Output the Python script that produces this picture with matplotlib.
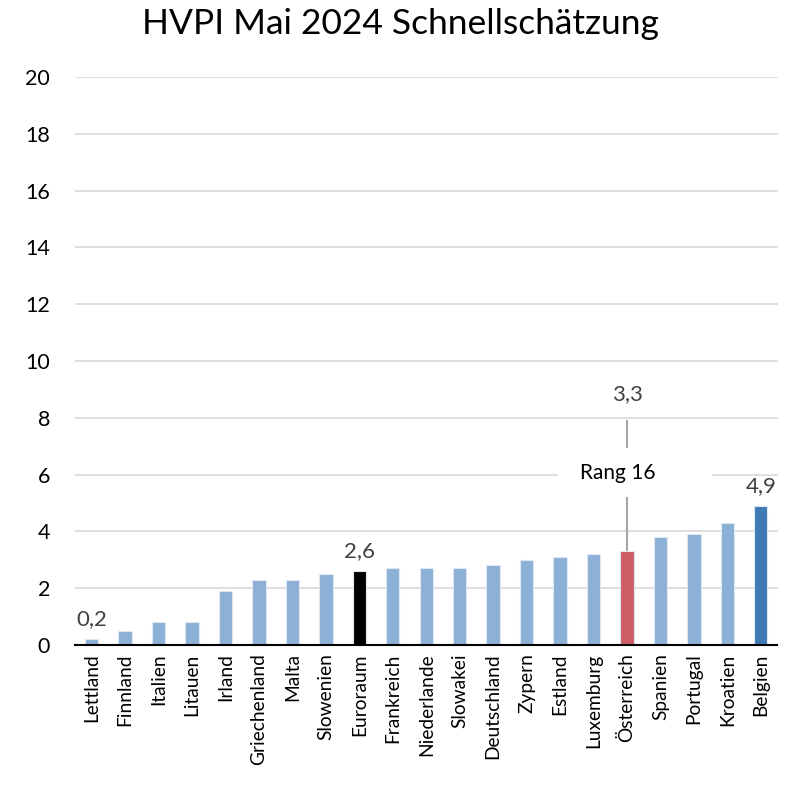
import matplotlib
matplotlib.use("Agg")
import matplotlib.pyplot as plt
from matplotlib.patches import Rectangle

plt.rcParams['font.family'] = ['Lato', 'DejaVu Sans']

countries = ["Lettland", "Finnland", "Italien", "Litauen", "Irland", "Griechenland",
             "Malta", "Slowenien", "Euroraum", "Frankreich", "Niederlande", "Slowakei",
             "Deutschland", "Zypern", "Estland", "Luxemburg", "Österreich", "Spanien",
             "Portugal", "Kroatien", "Belgien"]
values = [0.2, 0.5, 0.8, 0.8, 1.9, 2.3, 2.3, 2.5, 2.6, 2.7, 2.7, 2.7, 2.8, 3.0,
          3.1, 3.2, 3.3, 3.8, 3.9, 4.3, 4.9]
yticks = [0, 2, 4, 6, 8, 10, 12, 14, 16, 18, 20]
labelled = {"Lettland": "0,2", "Euroraum": "2,6", "Belgien": "4,9"}
highlight = "Österreich"
rank_text = "Rang 16"
title = "HVPI Mai 2024 Schnellschätzung"

base = "#8DB0D6"
special = {"Euroraum": "#000000", "Österreich": "#CD5C67", "Belgien": "#3F7AB5"}
colors = [special.get(c, base) for c in countries]

fig = plt.figure(figsize=(8, 7.92), dpi=100)
ax = fig.add_axes([75/800, 1 - 645/792, (777.5-75)/800, (645-77)/792])

x = list(range(len(countries)))
ax.bar(x, values, width=0.4, color=colors, edgecolor="#DDE8F3", linewidth=0.8, zorder=3)

ax.set_xlim(-0.5, len(countries) - 0.5)
ax.set_ylim(0, 20)
ax.set_yticks(yticks)
ax.set_yticklabels([str(t) for t in yticks], fontsize=15.5, color="#000000")
ax.set_xticks(x)
ax.set_xticklabels(countries, rotation=90, fontsize=13.8, color="#000000")
ax.tick_params(axis="both", length=0)
ax.tick_params(axis="x", pad=6)
ax.tick_params(axis="y", pad=18)
ax.grid(axis="y", color="#D9D9D9", linewidth=1.2, zorder=0)
for s in ["left", "right", "top"]:
    ax.spines[s].set_visible(False)
ax.spines["bottom"].set_color("#000000")
ax.spines["bottom"].set_linewidth(1.5)
ax.spines["bottom"].set_zorder(4)

for i, c in enumerate(countries):
    if c in labelled:
        ax.text(i, values[i] + 0.35, labelled[c], ha="center", va="bottom",
                fontsize=16, color="#404040", zorder=5)

# Callout for Österreich
hi = countries.index(highlight)
ax.plot([hi, hi], [values[hi], 7.9], color="#A6A6A6", linewidth=1.5, zorder=2)
ax.add_patch(Rectangle((hi - 2.05, 5.2), 4.6, 1.75, facecolor="white",
                       edgecolor="none", zorder=2.5))
ax.text(hi - 0.27, 6.05, rank_text, ha="center", va="center", fontsize=15,
        color="#000000", zorder=5)
ax.text(hi, 8.5, "3,3", ha="center", va="bottom", fontsize=16, color="#404040", zorder=5)

fig.suptitle(title, fontsize=25.5, y=1 - 24/792, va="center")

fig.savefig("out.png", dpi=100, facecolor="white")
